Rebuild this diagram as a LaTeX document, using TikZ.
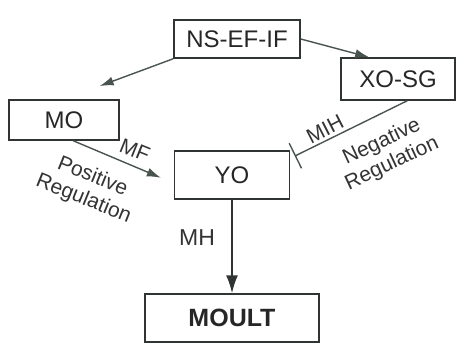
\documentclass[tikz,border=0pt]{standalone}
\usepackage{fontspec}
\setmainfont{Liberation Sans}
\usepackage{xcolor}
\usetikzlibrary{arrows.meta,positioning,calc}
\definecolor{inkgray}{HTML}{303532}
\definecolor{linegray}{HTML}{4A544E}

\begin{document}
\begin{tikzpicture}[x=1pt, y=1pt,
  box/.style={draw=inkgray, line width=1.5pt, text=black!85, inner sep=0pt,
    font=\fontsize{24}{28}\selectfont},
  arr/.style={draw=linegray, line width=1.4pt, -{Latex[length=14pt,width=9pt]}},
  lbl/.style={text=black!80, font=\fontsize{21}{24}\selectfont, align=center, inner sep=0pt}]
\useasboundingbox (0,0) rectangle (457,356);
% Boxes
\node[box, minimum width=126pt, minimum height=38pt] (nsef) at (237,317) {NS-EF-IF};
\node[box, minimum width=114pt, minimum height=42pt] (xosg) at (398,277) {XO-SG};
\node[box, minimum width=110pt, minimum height=40pt] (mo) at (64,236) {MO};
\node[box, minimum width=115pt, minimum height=48pt] (yo) at (232,181) {YO};
\node[box, minimum width=174pt, minimum height=48pt, font=\fontsize{25}{28}\selectfont\bfseries] (moult) at (232,38) {MOULT};
% Arrows
\draw[arr, shorten >=38pt] (nsef.south west) -- (mo.north);
\draw[arr] (nsef.east) -- (xosg.143);
\draw[arr, shorten >=14pt] (mo.-66) -- (yo.188);
\draw[draw=linegray, line width=1.4pt, -{Bar[width=28pt]}, shorten >=5pt] (xosg.-67) -- (yo.16);
\draw[draw=inkgray, line width=1.6pt, -{Latex[length=18pt,width=12pt]}] (yo.south) -- (moult.north);
% Labels
\node[lbl, rotate=-22] (mf) at (135,206) {MF};
\node[lbl, rotate=-22] (poslbl) at (88,168) {Positive\\Regulation};
\node[lbl, rotate=27] (mih) at (325,227) {MIH};
\node[lbl, rotate=25] (neglbl) at (387,203) {Negative\\Regulation};
\node[lbl, font=\fontsize{23}{26}\selectfont] (mh) at (197,118) {MH};
\end{tikzpicture}
\end{document}
